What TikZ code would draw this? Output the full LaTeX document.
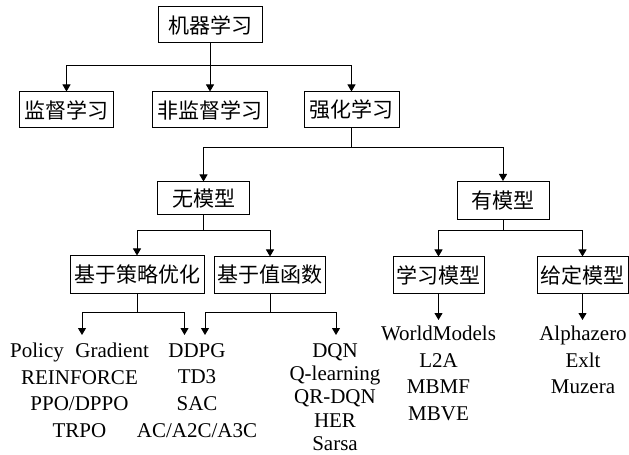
\documentclass[tikz,border=0pt]{standalone}
\usepackage{fontspec}
\setmainfont{Liberation Serif}
\newfontfamily\cjk{Noto Sans CJK SC}
\usetikzlibrary{arrows.meta}
\begin{document}
\begin{tikzpicture}[x=1bp,y=-1bp,
  box/.style={draw, line width=1bp, inner sep=0pt, font=\cjk\fontsize{21bp}{25bp}\selectfont, minimum height=36bp},
  conn/.style={line width=1bp},
  arr/.style={conn, -{Triangle[length=7bp,width=8bp]}},
  lst/.style={align=center, inner sep=0pt, anchor=north, font=\fontsize{21bp}{26.7bp}\selectfont},
  lstb/.style={lst, font=\fontsize{21bp}{23.3bp}\selectfont},
]
\useasboundingbox (0,0) rectangle (629,455);
% boxes
\node[box, minimum width=104bp] (ml) at (210,25) {机器学习};
\node[box, minimum width=93bp] (sup) at (66.5,110) {监督学习};
\node[box, minimum width=115bp] (uns) at (210,110) {非监督学习};
\node[box, minimum width=95bp] (rl) at (351.5,110) {强化学习};
\node[box, minimum width=92bp, minimum height=33bp] (mf) at (203.5,198.5) {无模型};
\node[box, minimum width=92bp, minimum height=38bp] (mb) at (503,200.5) {有模型};
\node[box, minimum width=134bp, minimum height=37bp] (po) at (137,274.5) {基于策略优化};
\node[box, minimum width=111bp] (vf) at (270,275) {基于值函数};
\node[box, minimum width=91bp] (lm) at (438.5,275) {学习模型};
\node[box, minimum width=91bp] (gm) at (582.5,275) {给定模型};
% lists
\node[lst] (l1) at (79.5,342.7) {Policy\hspace{0.55em}Gradient\\REINFORCE\\PPO/DPPO\\TRPO};
\node[lst] (l2) at (197,343.1) {DDPG\\TD3\\SAC\\AC/A2C/A3C};
\node[lstb] (l3) at (335,343.1) {DQN\\Q-learning\\QR-DQN\\HER\\Sarsa};
\node[lst] (l4) at (438.5,325.7) {WorldModels\\L2A\\MBMF\\MBVE};
\node[lst] (l5) at (583,325.7) {Alphazero\\Exlt\\Muzera};
% junctions
\coordinate (j1) at (210,66);
\coordinate (j2) at (351.5,148);
\coordinate (j3) at (203.5,231);
\coordinate (j4) at (503,231);
\coordinate (j5) at (137,312);
\coordinate (j6) at (270,312);
\coordinate (a1) at (82,335);
\coordinate (a2) at (184.5,335);
\coordinate (a3) at (205,335);
\coordinate (a4) at (336,335);
\coordinate (a5) at (438.5,320);
\coordinate (a6) at (582.5,320);
% connectors
\draw[conn] (ml) -- (j1);
\draw[arr] (j1) -| (sup);
\draw[arr] (j1) -- (uns);
\draw[arr] (j1) -| (rl);
\draw[conn] (rl) -- (j2);
\draw[arr] (j2) -| (mf);
\draw[arr] (j2) -| (mb);
\draw[conn] (mf) -- (j3);
\draw[arr] (j3) -| (po);
\draw[arr] (j3) -| (vf);
\draw[conn] (mb) -- (j4);
\draw[arr] (j4) -| (lm);
\draw[arr] (j4) -| (gm);
\draw[conn] (po) -- (j5);
\draw[arr] (j5) -| (a1);
\draw[arr] (j5) -| (a2);
\draw[conn] (vf) -- (j6);
\draw[arr] (j6) -| (a3);
\draw[arr] (j6) -| (a4);
\draw[arr] (lm) -- (a5);
\draw[arr] (gm) -- (a6);
\end{tikzpicture}
\end{document}
